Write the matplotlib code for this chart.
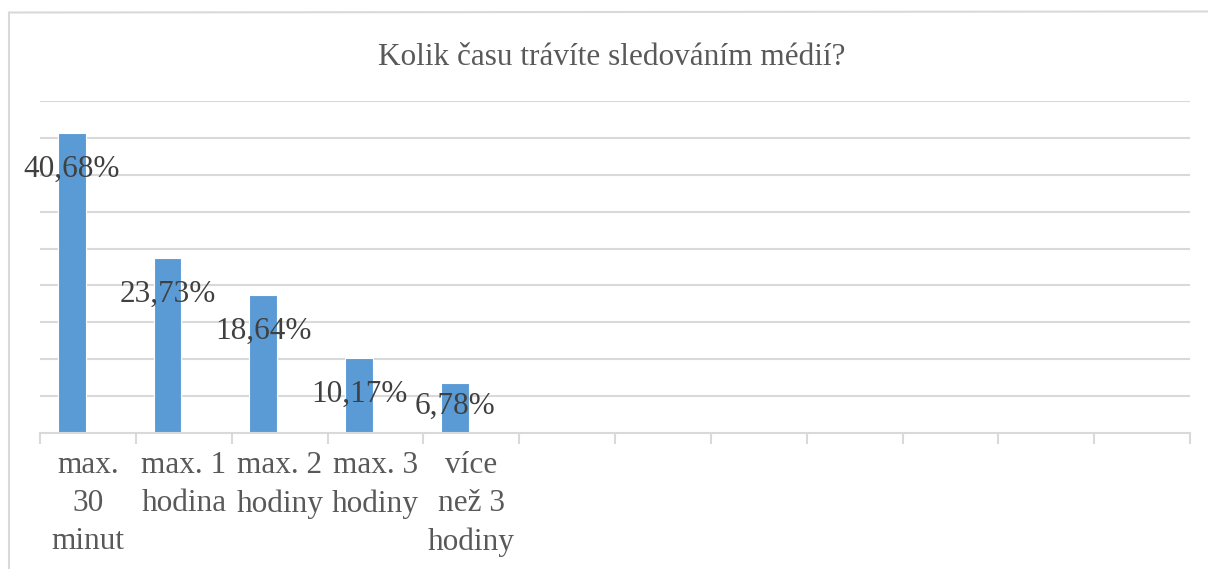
import matplotlib
matplotlib.use("Agg")
import matplotlib.pyplot as plt
from matplotlib.lines import Line2D

title = "Kolik času trávíte sledováním médií?"
categories = ["max.\n30\nminut", "max. 1\nhodina", "max. 2\nhodiny", "max. 3\nhodiny", "více\nnež 3\nhodiny"]
values = [40.68, 23.73, 18.64, 10.17, 6.78]
value_labels = ["40,68%", "23,73%", "18,64%", "10,17%", "6,78%"]

n_slots = 12
W, H = 1208, 569
dpi = 100
plt.rcParams['font.family'] = ['Liberation Serif', 'DejaVu Serif']

fig = plt.figure(figsize=(W / dpi, H / dpi), dpi=dpi)
fig.patch.set_facecolor("white")
ax = fig.add_axes([40 / W, 1 - 433 / H, (1190 - 40) / W, (433 - 101) / H])

grid_c = "#d9d9d9"
bar_c = "#5b9bd5"

ax.set_xlim(0, n_slots)
ax.set_ylim(0, 45)
for yv in range(5, 46, 5):
    ax.axhline(yv, color=grid_c, lw=1.5, zorder=0)

xs = [i + 0.5 - 0.17 for i in range(len(values))]
ax.bar(xs, values, width=0.29, color=bar_c, edgecolor="white", linewidth=0.8, zorder=2)

for x, v, lab in zip(xs, values, value_labels):
    y = max(v - 4.9, 3.6)
    ax.text(x, y, lab, ha="center", va="center", fontsize=22.5, color="#404040", zorder=3)

for i, c in enumerate(categories):
    ax.text(i + 0.5, -0.055, c, transform=ax.get_xaxis_transform(), ha="center", va="top",
            fontsize=22.5, color="#595959", linespacing=1.4)

for s in ["top", "right", "left"]:
    ax.spines[s].set_visible(False)
ax.spines["bottom"].set_color(grid_c)
ax.spines["bottom"].set_linewidth(1.5)
ax.set_xticks(range(n_slots + 1))
ax.set_xticklabels([])
ax.tick_params(axis="x", length=8, width=1.5, color=grid_c, direction="out")
ax.set_yticks([])

fig.text(612 / W, 1 - 57 / H, title, ha="center", va="center", fontsize=22.5, color="#595959")

fig.add_artist(Line2D([9 / W, 9 / W], [0, 1 - 13 / H], transform=fig.transFigure, color="#d9d9d9", lw=1.5))
fig.add_artist(Line2D([9 / W, 1], [1 - 12.5 / H, 1 - 11.5 / H], transform=fig.transFigure, color="#d9d9d9", lw=1.5))

fig.savefig("out.png", dpi=dpi)
